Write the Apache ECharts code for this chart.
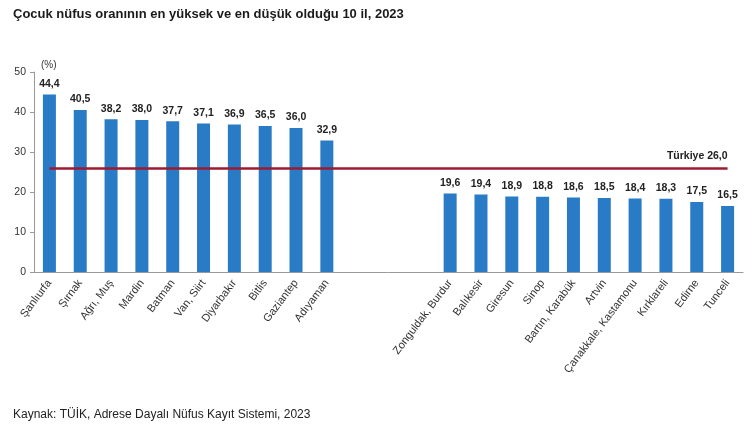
<!DOCTYPE html>
<html><head><meta charset="utf-8">
<script src="https://cdn.jsdelivr.net/npm/echarts@6/dist/echarts.min.js"></script>
<style>html,body{margin:0;padding:0;background:#fff}#c{width:750px;height:424px}</style>
</head><body><div id="c"></div>
<script>
const categories = ['Şanlıurfa','Şırnak','Ağrı, Muş','Mardin','Batman','Van, Siirt','Diyarbakır','Bitlis','Gaziantep','Adıyaman','','','','Zonguldak, Burdur','Balıkesir','Giresun','Sinop','Bartın, Karabük','Artvin','Çanakkale, Kastamonu','Kırklareli','Edirne','Tunceli'];
const values = [44.4,40.5,38.2,38.0,37.7,37.1,36.9,36.5,36.0,32.9,null,null,null,19.6,19.4,18.9,18.8,18.6,18.5,18.4,18.3,17.5,16.5];
const turkiyeValue = 26.0;
const yTicks = [0,10,20,30,40,50];
const title = 'Çocuk nüfus oranının en yüksek ve en düşük olduğu 10 il, 2023';
const source = 'Kaynak: TÜİK, Adrese Dayalı Nüfus Kayıt Sistemi, 2023';

const fmt = v => v.toFixed(1).replace('.', ',');
const chart = echarts.init(document.getElementById('c'), null, {renderer:'canvas'});
chart.setOption({
  backgroundColor:'#fff',
  animation:false,
  textStyle:{fontFamily:'Liberation Sans, Arial, sans-serif'},
  title:[
    {text:title,left:8,top:3,textStyle:{fontSize:13,fontWeight:'bold',color:'#1a1a1a'}},
    {text:source,left:8,top:404,textStyle:{fontSize:12,fontWeight:'normal',color:'#222'}},
    {text:'(%)',left:36,top:55,textStyle:{fontSize:10,fontWeight:'normal',color:'#333'}}
  ],
  grid:{left:34,right:7,top:72,bottom:152,containLabel:false},
  xAxis:{
    type:'category',data:categories,
    axisLine:{lineStyle:{color:'#999'}},
    axisTick:{lineStyle:{color:'#999'},length:4},
    axisLabel:{rotate:53,interval:0,fontSize:11,color:'#333',margin:9}
  },
  yAxis:{
    type:'value',min:yTicks[0],max:yTicks[yTicks.length-1],interval:10,
    splitLine:{show:false},
    axisLine:{show:true,lineStyle:{color:'#999'}},
    axisTick:{show:true,length:4,lineStyle:{color:'#999'}},
    axisLabel:{fontSize:10.5,color:'#333',margin:8}
  },
  series:[{
    type:'bar',data:values,barWidth:13,
    itemStyle:{color:'#2A7BC6'},
    label:{show:true,position:'top',distance:5,fontSize:10.5,fontWeight:'bold',color:'#222',formatter:p=>fmt(p.value)},
    markLine:{
      symbol:'none',silent:true,
      lineStyle:{color:'#9B1B30',width:2.5,type:'solid'},
      label:{show:false},
      data:[[{xAxis:0,yAxis:turkiyeValue},{xAxis:categories.length-1,yAxis:turkiyeValue,
        label:{show:true,position:'insideEndTop',formatter:'Türkiye '+fmt(turkiyeValue),fontSize:10.5,fontWeight:'bold',color:'#222',distance:[0,6]}}]]
    }
  }]
});
</script></body></html>
